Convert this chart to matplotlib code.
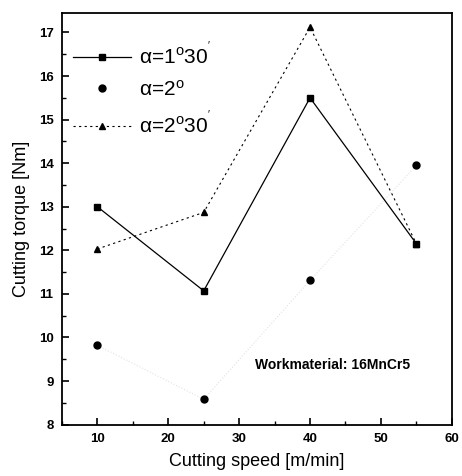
import matplotlib
matplotlib.use("Agg")
import matplotlib.pyplot as plt
from matplotlib.ticker import MultipleLocator

plt.rcParams['font.family'] = ['Liberation Sans', 'DejaVu Sans']
plt.rcParams['mathtext.fontset'] = 'custom'
plt.rcParams['mathtext.rm'] = 'Liberation Sans'
plt.rcParams['mathtext.it'] = 'Liberation Sans:italic'

speed = [10, 25, 40, 55]
torque_1_30 = [13.0, 11.07, 15.5, 12.15]
torque_2 = [9.82, 8.58, 11.31, 13.95]
torque_2_30 = [12.03, 12.87, 17.12, 12.15]

labels = ["α=1$^{\\mathrm{o}}$30$^{'}$",
          "α=2$^{\\mathrm{o}}$",
          "α=2$^{\\mathrm{o}}$30$^{'}$"]

fig = plt.figure(figsize=(4.62, 4.76), dpi=100)
ax = fig.add_axes([0.134, 0.108, 0.844, 0.865])

ax.plot(speed, torque_2, ':', color='#e2e2e2', lw=0.8, zorder=1)
ax.plot(speed, torque_1_30, '-', color='black', lw=0.9, marker='s', ms=4.5, label=labels[0], zorder=3)
ax.plot(speed, torque_2, linestyle='none', color='black', marker='o', ms=5, label=labels[1], zorder=3)
ax.plot(speed, torque_2_30, '--', color='black', lw=0.8, dashes=(2, 3), marker='^', ms=5, label=labels[2], zorder=3)

ax.set_xlim(5, 60)
ax.set_ylim(8, 17.45)
ax.xaxis.set_major_locator(MultipleLocator(10))
ax.xaxis.set_minor_locator(MultipleLocator(5))
ax.yaxis.set_major_locator(MultipleLocator(1))
ax.yaxis.set_minor_locator(MultipleLocator(0.5))
ax.tick_params(which='both', direction='in', top=False, right=False, labelsize=9.5, pad=6)
ax.tick_params(which='major', length=5, width=1.2)
ax.tick_params(which='minor', length=3, width=1)
for lab in ax.get_xticklabels() + ax.get_yticklabels():
    lab.set_fontweight('bold')
for s in ax.spines.values():
    s.set_linewidth(1.3)

ax.set_xlabel("Cutting speed [m/min]", fontsize=13, labelpad=6)
ax.set_ylabel("Cutting torque [Nm]", fontsize=13, labelpad=6)

ax.text(32.3, 9.37, "Workmaterial: 16MnCr5", fontsize=10, fontweight='bold', va='center')

ax.legend(loc='upper left', frameon=False, fontsize=15, handlelength=2.8,
          handletextpad=0.4, labelspacing=0.55, borderpad=0, borderaxespad=0,
          bbox_to_anchor=(0.028, 0.93))

fig.savefig("out.png", dpi=100)
